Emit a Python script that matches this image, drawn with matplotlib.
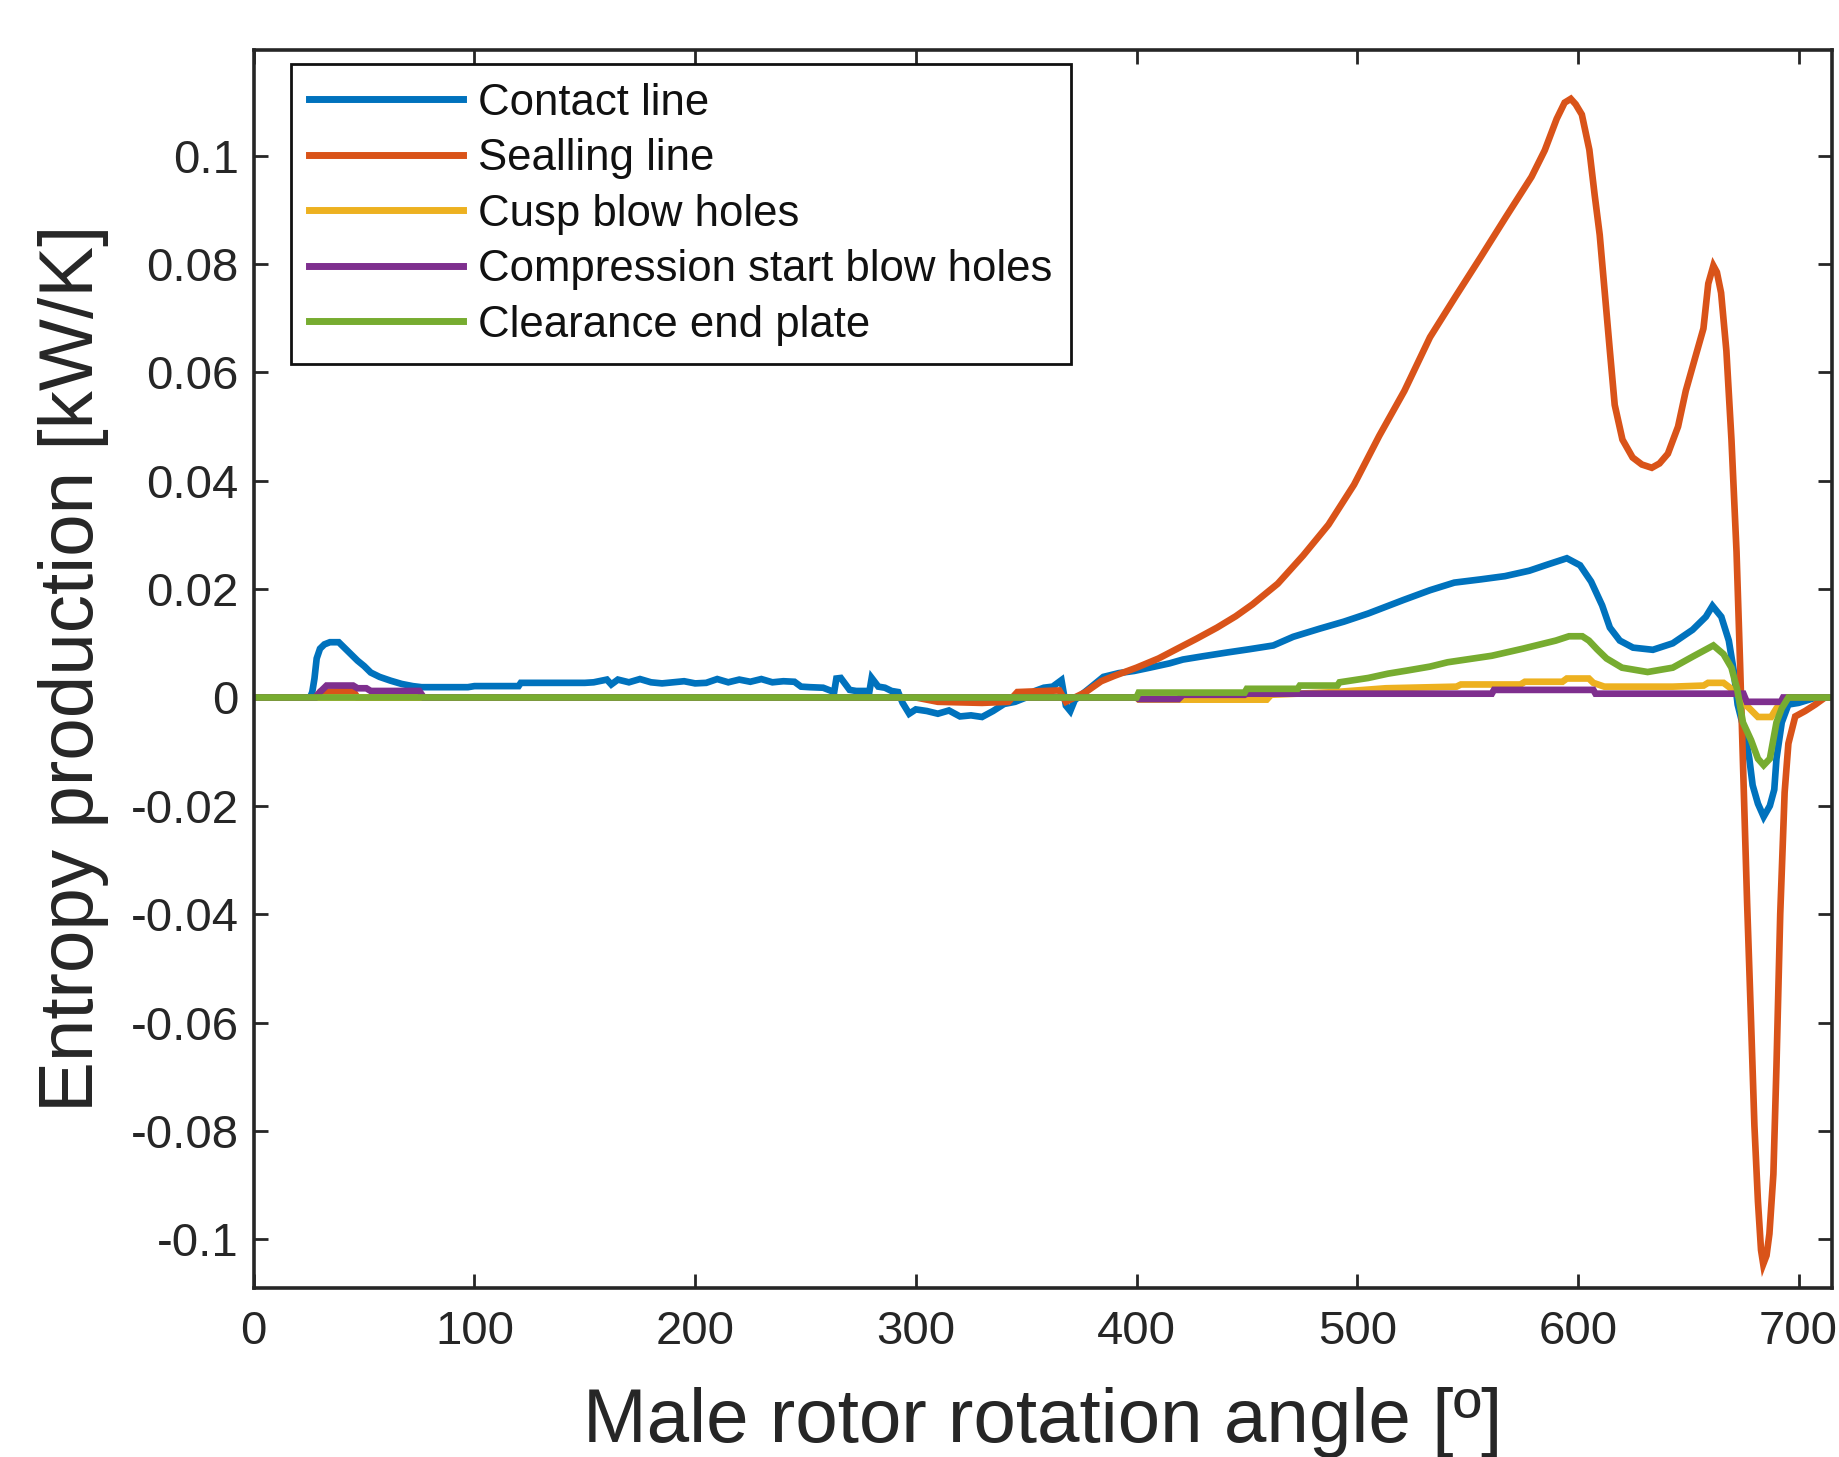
import matplotlib
matplotlib.use('Agg')
import matplotlib.pyplot as plt

# --- data (male rotor angle [deg] vs entropy production [kW/K]) ---
contact_x = [0, 25.5, 26.5, 27.5, 28.5, 30, 32, 34.5, 38.5, 41, 44, 47, 50, 53, 57, 62, 67, 72,
             76, 97, 100, 120, 121, 150, 154, 160, 162, 165, 170, 175, 180, 185, 195, 200, 205,
             210, 215, 220, 225, 230, 235, 240, 245, 248, 252, 258, 263, 264, 266, 270, 273, 279,
             280, 283, 286, 289, 292, 294, 297, 300, 305, 310, 315, 320, 325, 330, 335, 340, 345,
             350, 354, 358, 362, 366, 368, 370, 372, 375, 379, 385, 392, 399, 406, 415, 421, 430,
             441, 451, 462, 471, 483, 494, 505, 521, 533, 544, 556, 567, 578, 586, 595, 601, 606,
             611, 614.5, 619, 625, 634, 643, 652, 658, 661, 665, 668.4, 670.6, 672.4, 675.5,
             677.7, 679.2, 681.6, 684.2, 687, 689, 690, 692.4, 695.4, 700, 704, 708, 715]
contact_y = [0, 0, 0.001, 0.0035, 0.0072, 0.0090, 0.0098, 0.0102, 0.0102, 0.0092, 0.0080, 0.0068,
             0.0058, 0.0046, 0.0038, 0.0031, 0.0025, 0.0021,
             0.0019, 0.0019, 0.0021, 0.0021, 0.0027, 0.0027, 0.0028, 0.0033, 0.0024, 0.0033, 0.0028,
             0.0034, 0.0028, 0.0026, 0.0030, 0.0026, 0.0027,
             0.0034, 0.0028, 0.0033, 0.0029, 0.0034, 0.0028, 0.0030, 0.0029, 0.0020, 0.0019, 0.0018,
             0.0010, 0.0035, 0.0036, 0.0014, 0.0012, 0.0012,
             0.0036, 0.0020, 0.0018, 0.0012, 0.0010, -0.0010, -0.0030, -0.0022, -0.0025, -0.0030,
             -0.0024, -0.0035, -0.0033, -0.0036, -0.0025, -0.0012, -0.0008,
             0.0, 0.0012, 0.0018, 0.0020, 0.0032, -0.0015, -0.0025, -0.0005, 0.0005, 0.0018, 0.0038,
             0.0045, 0.0049, 0.0055, 0.0063, 0.0070, 0.0076,
             0.0083, 0.0089, 0.0096, 0.0112, 0.0127, 0.0140, 0.0155, 0.0180, 0.0198, 0.0212, 0.0218,
             0.0224, 0.0234, 0.0245, 0.0257, 0.0244, 0.0214,
             0.0170, 0.0129, 0.0105, 0.0092, 0.0088, 0.0100, 0.0125, 0.0149, 0.0169, 0.0149, 0.0105,
             0.0050, -0.0013, -0.0063,
             -0.0113, -0.0162, -0.0196, -0.0220, -0.0200, -0.0170, -0.0113, -0.0046, -0.0013,
             -0.0010, -0.0005, 0, 0]

sealing_x = [0, 28, 30, 45, 47, 300, 310, 330, 342, 346, 365, 368, 372, 377, 384, 390, 400, 410,
             418, 427, 436.5, 445, 452.6, 464, 475.5, 487, 498.6, 510, 521.4, 533, 544.4, 556,
             567.4, 579, 585, 590.4, 594, 596.8, 599, 601.8, 605.2, 607.6, 609.9, 612.2, 614.5,
             616.7, 620.2, 624.8, 629, 633.5, 637, 640.8, 645.4, 648.9, 652.3, 656.9, 659.1,
             661.4, 663, 664.9, 667.3, 669.6, 671.9, 673.5, 675.1, 676.7, 678.5, 680, 681.6, 683,
             684, 685.5, 686.8, 688.6, 690, 691.7, 693.7, 695.4, 698.5, 703, 707.6, 712, 715]
sealing_y = [0, 0, 0.0010, 0.0012, 0, 0, -0.0008, -0.0010, -0.0008, 0.0010, 0.0013, -0.0008, 0,
             0.0010, 0.0030, 0.0040, 0.0055, 0.0072,
             0.0089, 0.0108, 0.0129, 0.0150, 0.0172, 0.0210, 0.0262, 0.0319, 0.0393, 0.0483, 0.0566,
             0.0665, 0.0739, 0.0813,
             0.0887, 0.0961, 0.1010, 0.1068, 0.1098, 0.1105, 0.1095, 0.1076, 0.1011, 0.0928, 0.0854,
             0.0747, 0.0640,
             0.0540, 0.0476, 0.0443, 0.0430, 0.0424, 0.0432, 0.0450, 0.0500, 0.0566, 0.0615, 0.0681,
             0.0764,
             0.0797, 0.0785, 0.0747, 0.0640, 0.0476, 0.0269, 0.0063, -0.0160, -0.0380, -0.0600,
             -0.0790, -0.0930, -0.1020,
             -0.1046, -0.1030, -0.0990, -0.0880, -0.0680, -0.0400, -0.0175, -0.0085, -0.0035,
             -0.0025, -0.0013, 0, 0]

cusp_x = [0, 400, 401, 459, 461, 490, 513, 545, 547, 574, 576, 593, 595, 605, 607, 612, 643, 657,
          659, 666, 668.3, 672, 675, 677.7, 681.6, 687.6, 690, 692.4, 695, 715]
cusp_y = [0, 0, -0.0004, -0.0004, 0.0005, 0.0010, 0.0017, 0.0020, 0.0024, 0.0024, 0.0029, 0.0029,
          0.0035, 0.0035, 0.0027, 0.0020, 0.0020, 0.0022,
          0.0027, 0.0027, 0.0020, 0.0008, -0.0010, -0.0020, -0.0036, -0.0036, -0.0020, -0.0008,
          0, 0]

comp_x = [0, 28, 30, 33, 45, 47, 51, 53, 75, 77, 400, 401, 419, 421, 449, 450, 561, 562, 607,
          608, 675, 676.5, 692, 693, 715]
comp_y = [0, 0, 0.0010, 0.0022, 0.0022, 0.0017, 0.0017, 0.0012, 0.0012, 0, 0, -0.0003, -0.0003,
          0.0005, 0.0005, 0.0007, 0.0007, 0.0014, 0.0014,
          0.0007, 0.0007, -0.0008, -0.0008, 0, 0]

clear_x = [0, 400, 401, 449, 450, 473, 474, 491, 492, 505, 514, 523, 533, 541, 551, 561, 575,
           590, 596, 602, 605, 608.7, 613, 620, 631.6, 643, 652.3, 661.4, 666, 669.6, 672.3,
           674.8, 678.5, 681.6, 684.2, 687, 690, 692.4, 695.4, 715]
clear_y = [0, 0, 0.0009, 0.0009, 0.0016, 0.0016, 0.0022, 0.0022, 0.0028, 0.0036, 0.0044, 0.0050,
           0.0057, 0.0065, 0.0071, 0.0077, 0.0090,
           0.0105, 0.0113, 0.0113, 0.0105, 0.0089, 0.0072, 0.0055, 0.0047, 0.0055, 0.0076, 0.0096,
           0.0080, 0.0055, 0.0013,
           -0.0046, -0.0079, -0.0113, -0.0125, -0.0113, -0.0046, -0.0020, 0, 0]

labels = ['Contact line', 'Sealling line', 'Cusp blow holes',
          'Compression start blow holes', 'Clearance end plate']
colors = ['#0072BD', '#D95319', '#EDB120', '#7E2F8E', '#77AC30']

x_ticks = [0, 100, 200, 300, 400, 500, 600, 700]
y_ticks = [-0.1, -0.08, -0.06, -0.04, -0.02, 0, 0.02, 0.04, 0.06, 0.08, 0.1]
y_tick_labels = ['-0.1', '-0.08', '-0.06', '-0.04', '-0.02', '0',
                 '0.02', '0.04', '0.06', '0.08', '0.1']

plt.rcParams['font.family'] = ['Liberation Sans', 'DejaVu Sans']
ink = '#262626'

fig = plt.figure(figsize=(18.39, 14.57), dpi=100)
ax = fig.add_axes([0.138, 0.116, 0.858, 0.850])

series = [(contact_x, contact_y), (sealing_x, sealing_y), (cusp_x, cusp_y),
          (comp_x, comp_y), (clear_x, clear_y)]
for (xs, ys), lab, col in zip(series, labels, colors):
    ax.plot(xs, ys, color=col, lw=4.8, label=lab, solid_joinstyle='miter')

ax.set_xlim(0, 715)
ax.set_ylim(-0.109, 0.1196)
ax.set_xticks(x_ticks)
ax.set_xticklabels([str(t) for t in x_ticks])
ax.set_yticks(y_ticks)
ax.set_yticklabels(y_tick_labels)

ax.tick_params(direction='in', length=10, width=2, colors=ink, labelsize=34,
               top=True, right=True)
ax.tick_params(axis='x', pad=16)
ax.tick_params(axis='y', pad=11)
for sp in ax.spines.values():
    sp.set_linewidth(2.6)
    sp.set_color(ink)

ax.set_xlabel('Male rotor rotation angle [º]', fontsize=55, color=ink)
ax.set_ylabel('Entropy production [kW/K]', fontsize=55, color=ink)
ax.xaxis.set_label_coords(0.5, -0.080)
ax.yaxis.set_label_coords(-0.092, 0.5)

leg = ax.legend(loc='upper left', bbox_to_anchor=(0.0234, 0.988), borderaxespad=0,
                fontsize=31.5, frameon=True, fancybox=False, framealpha=1,
                handlelength=3.52, handletextpad=0.35, labelspacing=0.33, borderpad=0.42)
leg.get_frame().set_edgecolor('#111111')
leg.get_frame().set_linewidth(2.0)
for t in leg.get_texts():
    t.set_color('#111111')
for h in leg.get_lines():
    h.set_linewidth(5)

fig.savefig('out.png', dpi=100, facecolor='white')
